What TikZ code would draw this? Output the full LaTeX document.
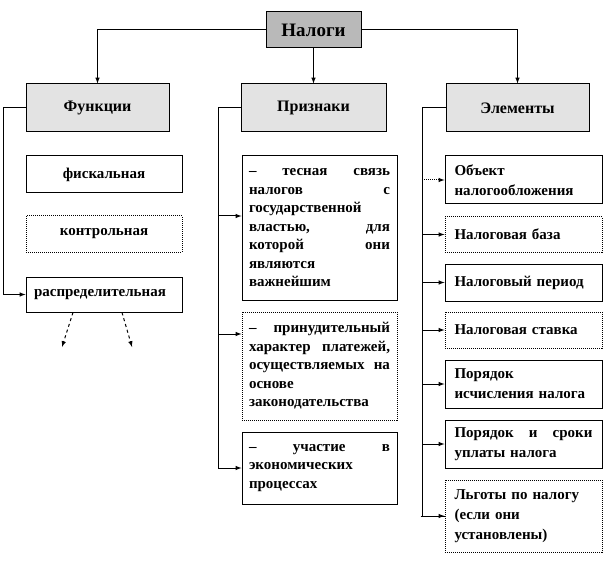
\documentclass[tikz,border=0pt]{standalone}
\usepackage{fontspec}
\setmainfont{Liberation Serif}
\usetikzlibrary{arrows}

\begin{document}
\begin{tikzpicture}[x=1pt,y=-1pt,line width=1pt,
	txt/.style={font=\bfseries\fontsize{15}{18.5}\selectfont},
	hdr/.style={draw,fill=gray!22,minimum width=143,minimum height=48,inner sep=0pt,font=\bfseries\fontsize{16}{19}\selectfont},
	fbox/.style={draw,txt,minimum width=156,inner sep=0pt},
	pbox/.style={draw,txt,text width=141,inner xsep=7,inner ysep=0pt,align=left},
	ebox/.style={draw,txt,text width=138,inner xsep=9.5,inner ysep=0pt,align=left,font=\bfseries\fontsize{15}{20}\selectfont},
	dotbox/.style={densely dotted}]
	\useasboundingbox (0,0) rectangle (613,564);
	\node[draw,fill=gray!55,minimum width=95,minimum height=36,inner sep=0pt,font=\bfseries\fontsize{19}{22}\selectfont] (nalogi) at (313.5,30) {Налоги};
	\node[hdr] (funk) at (97.5,108) {Функции};
	\node[hdr,minimum width=145] (priz) at (313.5,108) {Признаки};
	\node[hdr] (elem) at (517.5,108) {Элементы};
	\draw[-latex] (nalogi.west) -| (funk.north);
	\draw[-latex] (nalogi.south) -- (priz.north);
	\draw[-latex] (nalogi.east) -| (elem.north);

	\node[fbox,minimum height=37] (fisk) at (104,174.5) {фискальная};
	\node[fbox,dotbox,minimum height=36] (kontr) at (104,234) {контрольная};
	\node[fbox,minimum height=35,text width=140,inner xsep=8,align=left] (raspr) at (104,294.5) {распределительная};
	\coordinate (fbus) at (3,108);
	\draw[-latex] (funk.west) -- (fbus) |- (raspr.west);
	\coordinate (r1) at (62,347);
	\coordinate (r2) at (132,347);
	\draw[dashed,-latex] ([xshift=-31pt]raspr.south) -- (r1);
	\draw[dashed,-latex] ([xshift=18pt]raspr.south) -- (r2);

	\node[pbox,minimum height=144] (p1) at (319.5,228) {– \hfill тесная \hfill связь\\ налогов \hfill с\\ государственной\\ властью, \hfill для\\ которой \hfill они\\ являются\\ важнейшим};
	\node[pbox,dotbox,minimum height=108] (p2) at (319.5,366) {– \hfill принудительный\\ характер \hfill платежей,\\ осуществляемых \hfill на\\ основе\\ законодательства};
	\node[pbox,minimum height=72] (p3) at (319.5,468) {– \hfill участие \hfill в\\ экономических\\ процессах};
	\coordinate (pbus) at (218,108);
	\coordinate (p1in) at ([yshift=12pt]p1.west);
	\coordinate (p2in) at ([yshift=32pt]p2.west);
	\draw[-latex] (priz.west) -- (pbus) |- (p3.west);
	\draw[-latex] (pbus |- p1in) -- (p1in);
	\draw[-latex] (pbus |- p2in) -- (p2in);

	\node[ebox,minimum height=48] (e1) at (523.5,180) {Объект\\ налогообложения};
	\node[ebox,dotbox,minimum height=35] (e2) at (523.5,234.5) {Налоговая база};
	\node[ebox,minimum height=37] (e3) at (523.5,282.5) {Налоговый период};
	\node[ebox,dotbox,minimum height=36] (e4) at (523.5,330) {Налоговая ставка};
	\node[ebox,minimum height=48] (e5) at (523.5,384) {Порядок\\ исчисления налога};
	\node[ebox,minimum height=48] (e6) at (523.5,444) {Порядок \hfill и \hfill сроки\\ уплаты налога};
	\node[ebox,dotbox,minimum height=72] (e7) at (523.5,516) {Льготы по налогу\\ (если они\\ установлены)};
	\coordinate (ebus) at (422,108);
	\draw (elem.west) -- (ebus) |- (e7.west);
	\draw[densely dotted,-latex] (ebus |- e1.west) -- (e1.west);
	\draw[-latex] (ebus |- e2.west) -- (e2.west);
	\draw[-latex] (ebus |- e3.west) -- (e3.west);
	\draw[-latex] (ebus |- e4.west) -- (e4.west);
	\draw[-latex] (ebus |- e5.west) -- (e5.west);
	\draw[-latex] (ebus |- e6.west) -- (e6.west);
	\draw[densely dotted,-latex] ([xshift=-24pt]e7.west) -- (e7.west);
\end{tikzpicture}
\end{document}
